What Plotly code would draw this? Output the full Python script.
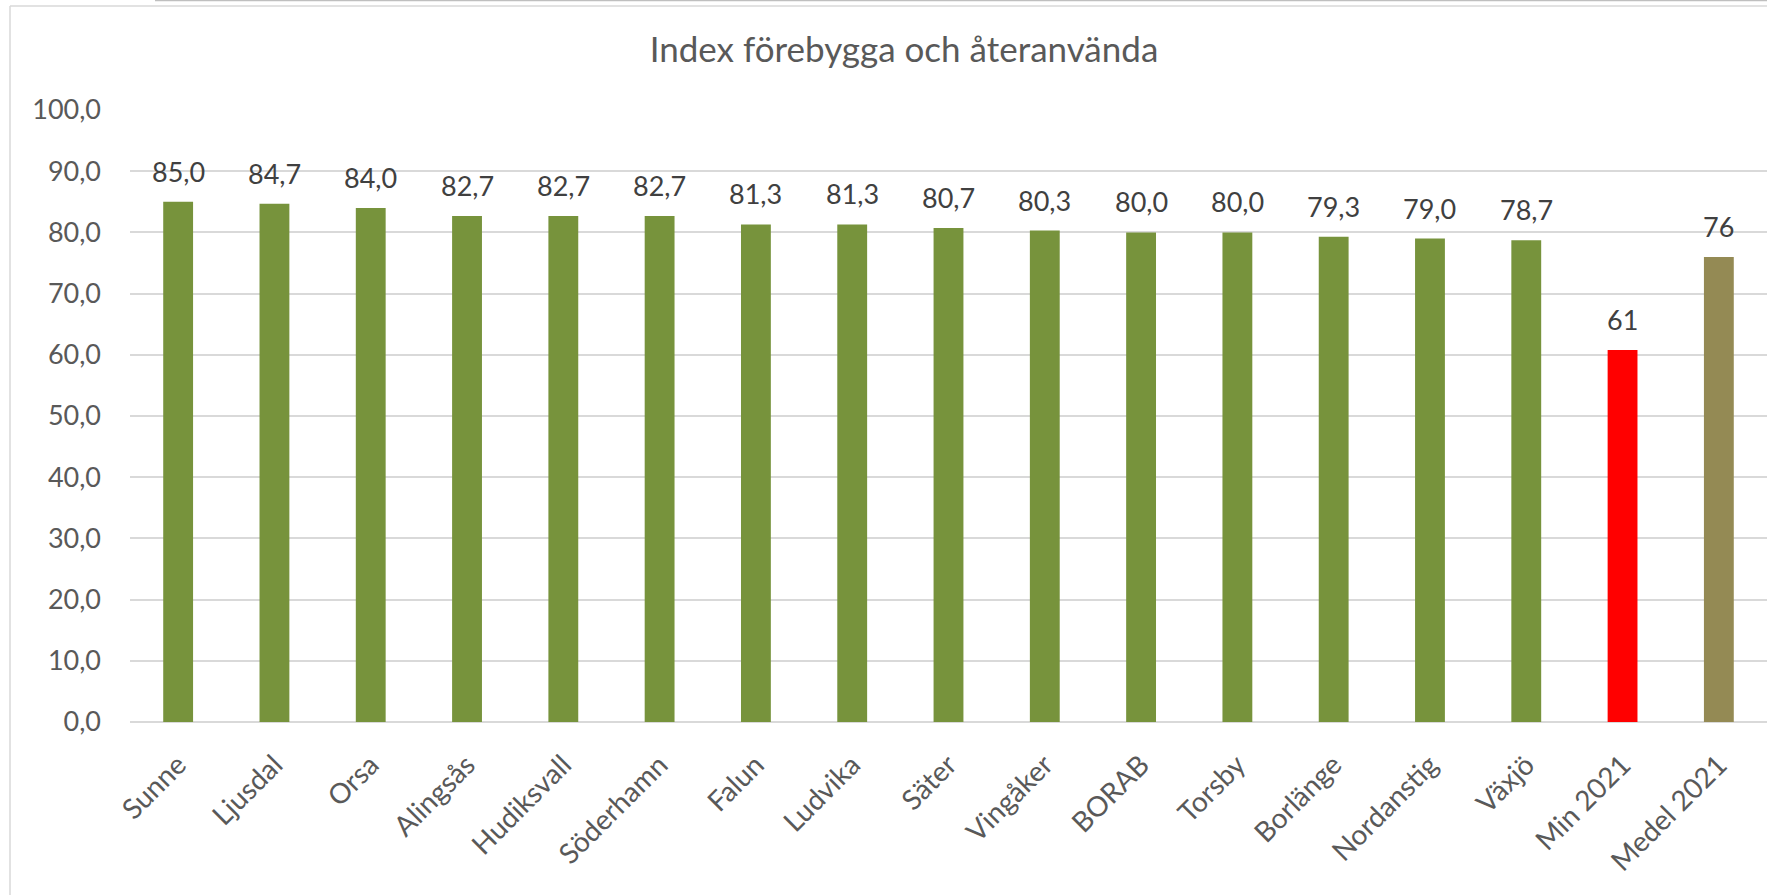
import plotly.graph_objects as go

categories = ["Sunne", "Ljusdal", "Orsa", "Alingsås", "Hudiksvall", "Söderhamn", "Falun",
              "Ludvika", "Säter", "Vingåker", "BORAB", "Torsby", "Borlänge", "Nordanstig",
              "Växjö", "Min 2021", "Medel 2021"]
values = [85.0, 84.7, 84.0, 82.7, 82.7, 82.7, 81.3, 81.3, 80.7, 80.3, 80.0, 80.0, 79.3,
          79.0, 78.7, 60.8, 76.0]
label_decimals = [1] * 15 + [0, 0]
bar_colors = ["#77933C"] * 15 + ["#FF0000", "#948A54"]
title_text = "Index förebygga och återanvända"

W, H = 1767, 895
L, R, T, B = 130, 0, 110, 173
FONT = "Lato, 'Open Sans', sans-serif"

labels = [f"{v:.{d}f}".replace(".", ",") for v, d in zip(values, label_decimals)]

fig = go.Figure(go.Bar(
    x=categories, y=values,
    marker=dict(color=bar_colors, line=dict(width=0)),
    hoverinfo="skip",
))

annotations = [
    dict(x=c, y=v, xref="x", yref="y", text=t, showarrow=False, yanchor="bottom",
         yshift=12, font=dict(family=FONT, size=27, color="#404040"))
    for c, v, t in zip(categories, values, labels)
]

pw, ph = W - L - R, H - T - B
def px(x):
    return (x - L) / pw
def py(y):
    return (H - B - y) / ph

shapes = [
    dict(type="line", xref="paper", yref="paper", x0=px(10), x1=px(10), y0=py(6), y1=py(H + 5),
         line=dict(color="#D9D9D9", width=1.5)),
    dict(type="line", xref="paper", yref="paper", x0=px(10), x1=px(W + 5), y0=py(6), y1=py(6),
         line=dict(color="#D9D9D9", width=1.5)),
    dict(type="line", xref="paper", yref="paper", x0=px(155), x1=px(W + 5), y0=py(0.5), y1=py(0.5),
         line=dict(color="#BFBFBF", width=1.5)),
]

fig.update_layout(
    width=W, height=H,
    margin=dict(l=L, r=R, t=T, b=B, pad=0),
    paper_bgcolor="white", plot_bgcolor="white",
    separators=",.",
    bargap=0.69,
    showlegend=False,
    title=dict(text=title_text, x=(904 / W), xanchor="center", xref="container",
               y=1 - 50 / H, yanchor="middle", yref="container",
               font=dict(family=FONT, size=35, color="#595959")),
    font=dict(family=FONT, size=27, color="#595959"),
    annotations=annotations,
    shapes=shapes,
)
fig.update_xaxes(
    tickangle=-45, showgrid=False, showline=False, ticks="",
    tickfont=dict(family=FONT, size=28, color="#595959"),
    ticklabelstandoff=20,
    range=[-0.5, len(categories) - 0.5],
)
fig.update_yaxes(
    range=[0, 100], dtick=10, tickformat=".1f", showgrid=True, gridcolor="#D9D9D9",
    gridwidth=1.5, zeroline=True, zerolinecolor="#D9D9D9", zerolinewidth=2,
    showline=False, ticks="", ticklabelstandoff=28,
    tickfont=dict(family=FONT, size=27, color="#595959"),
)

fig.write_html("out.html", config={"displayModeBar": False},
               post_script="document.body.style.margin='0';document.body.style.overflow='hidden';")
